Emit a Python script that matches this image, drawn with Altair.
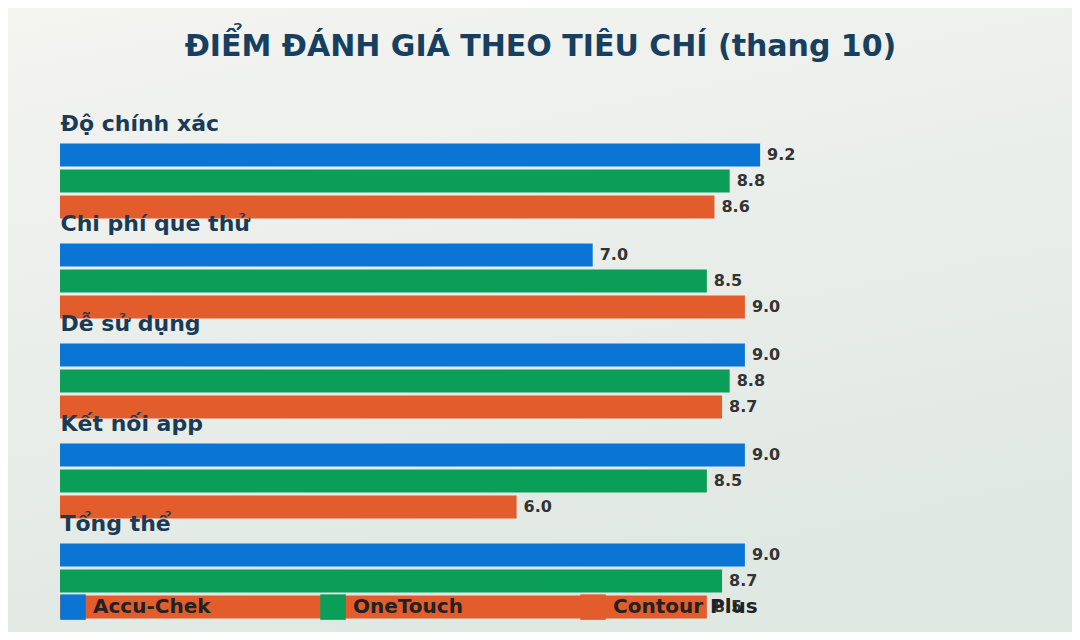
import altair as alt
import pandas as pd

# Scores per criterion (scale 0-10)
criteria = ["Độ chính xác", "Chi phí que thử", "Dễ sử dụng", "Kết nối app", "Tổng thể"]
brands = ["Accu-Chek", "OneTouch", "Contour Plus"]
accu_chek = [9.2, 7.0, 9.0, 9.0, 9.0]
one_touch = [8.8, 8.5, 8.8, 8.5, 8.7]
contour_plus = [8.6, 9.0, 8.7, 6.0, 8.5]
brand_colors = ["#0b75d5", "#0a9e58", "#e25c2c"]

rows = []
for brand, scores in zip(brands, [accu_chek, one_touch, contour_plus]):
    for crit, score in zip(criteria, scores):
        rows.append({"criterion": crit, "brand": brand, "score": score})
df = pd.DataFrame(rows)

FONT = "DejaVu Sans"

y_enc = alt.Y(
    "criterion:N",
    sort=criteria,
    title=None,
    scale=alt.Scale(paddingInner=0, paddingOuter=0),
    axis=alt.Axis(
        orient="left",
        domain=False,
        ticks=False,
        tickSize=0,
        labelPadding=0,
        labelAlign="left",
        labelBaseline="middle",
        labelOffset=-57,
        labelFont=FONT,
        labelFontSize=22,
        labelFontWeight="bold",
        labelColor="#1b3a56",
        labelLimit=400,
        zindex=1,
    ),
)
y_off = alt.YOffset(
    "brand:N", sort=brands, scale=alt.Scale(paddingInner=0.115, paddingOuter=0.48)
)
x_enc = alt.X("score:Q", scale=alt.Scale(domain=[0, 10]), axis=None)

# Soft gradient backdrop covering the whole canvas
backdrop = (
    alt.Chart(pd.DataFrame({"bg": [0]}))
    .mark_rect(
        color=alt.Gradient(
            gradient="linear",
            stops=[
                alt.GradientStop(color="#f4f4f1", offset=0),
                alt.GradientStop(color="#e0e8e3", offset=1),
            ],
            x1=0, y1=0, x2=0.35, y2=1,
        )
    )
    .encode(
        x=alt.value(-52), x2=alt.value(1012),
        y=alt.value(-123), y2=alt.value(501),
    )
)

bars = (
    alt.Chart(df)
    .mark_bar(cornerRadius=0)
    .encode(
        y=y_enc,
        yOffset=y_off,
        x=x_enc,
        color=alt.Color(
            "brand:N",
            sort=brands,
            scale=alt.Scale(domain=brands, range=brand_colors),
            legend=alt.Legend(
                orient="none",
                legendX=0,
                legendY=463,
                direction="horizontal",
                title=None,
                symbolType="square",
                symbolSize=650,
                symbolStrokeWidth=0,
                symbolOpacity=1,
                labelFont=FONT,
                labelFontSize=20,
                labelFontWeight="bold",
                labelColor="#222222",
                labelOffset=7,
                columnPadding=82,
                gridAlign="all",
                padding=0,
            ),
        ),
    )
)

labels = (
    alt.Chart(df)
    .mark_text(
        align="left",
        baseline="middle",
        dx=7,
        font=FONT,
        fontSize=16,
        fontWeight="bold",
        color="#333333",
    )
    .encode(
        y=alt.Y("criterion:N", sort=criteria),
        yOffset=alt.YOffset("brand:N", sort=brands),
        x=alt.X("score:Q"),
        text=alt.Text("score:Q", format=".1f"),
    )
)

chart = (
    (backdrop + bars + labels)
    .properties(
        width=761,
        height=500,
        autosize="none",
        padding={"left": 52, "top": 123, "right": 251, "bottom": 1},
        title=alt.TitleParams(
            "ĐIỂM ĐÁNH GIÁ THEO TIÊU CHÍ (thang 10)",
            font=FONT,
            fontSize=30,
            fontWeight="bold",
            color="#173f5f",
            anchor="middle",
            dx=100,
            offset=-54,
        ),
    )
    .configure_view(stroke=None)
    .configure(background="#eef0ec")
)

chart.save("out.html", embed_options={"renderer": "svg", "actions": False})
